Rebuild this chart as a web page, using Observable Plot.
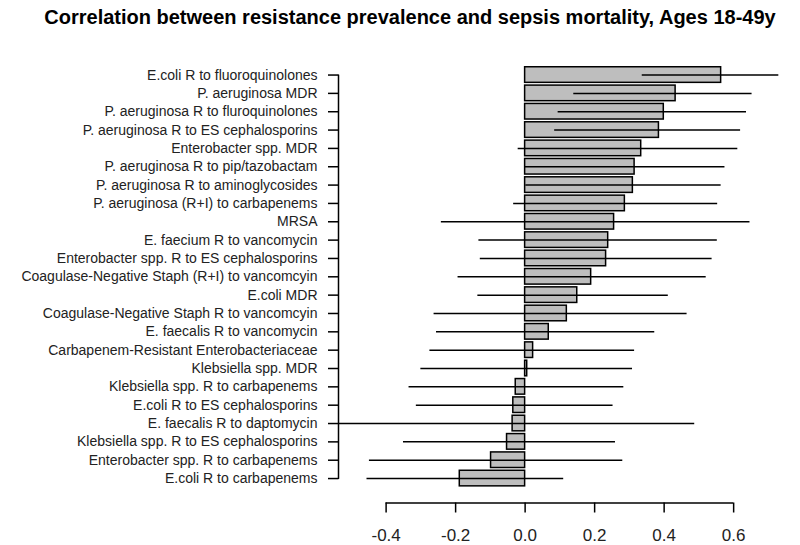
<!DOCTYPE html>
<html><head><meta charset="utf-8">
<script src="https://cdn.jsdelivr.net/npm/d3@7"></script>
<script src="https://cdn.jsdelivr.net/npm/@observablehq/plot@0.6"></script>
<style>
body{margin:0;background:#fff;}
#wrap{position:relative;width:800px;height:545px;}
#title{position:absolute;left:0;width:820px;top:7px;line-height:20px;text-align:center;font-family:"Liberation Sans",Arial,sans-serif;font-weight:bold;font-size:20px;color:#000;white-space:nowrap;}
#chart{position:absolute;left:0;top:0;}
</style></head><body>
<div id="wrap"><div id="chart"></div><div id="title">Correlation between resistance prevalence and sepsis mortality, Ages 18-49y</div></div>
<script>
const categories = [
  "E.coli R to fluoroquinolones",
  "P. aeruginosa MDR",
  "P. aeruginosa R to fluroquinolones",
  "P. aeruginosa R to ES cephalosporins",
  "Enterobacter spp. MDR",
  "P. aeruginosa R to pip/tazobactam",
  "P. aeruginosa R to aminoglycosides",
  "P. aeruginosa (R+I) to carbapenems",
  "MRSA",
  "E. faecium R to vancomycin",
  "Enterobacter spp. R to ES cephalosporins",
  "Coagulase-Negative Staph (R+I) to vancomcyin",
  "E.coli MDR",
  "Coagulase-Negative Staph R to vancomcyin",
  "E. faecalis R to vancomycin",
  "Carbapenem-Resistant Enterobacteriaceae",
  "Klebsiella spp. MDR",
  "Klebsiella spp. R to carbapenems",
  "E.coli R to ES cephalosporins",
  "E. faecalis R to daptomycin",
  "Klebsiella spp. R to ES cephalosporins",
  "Enterobacter spp. R to carbapenems",
  "E.coli R to carbapenems"
];
const estimates = [0.564, 0.433, 0.399, 0.385, 0.334, 0.315, 0.310, 0.287, 0.256, 0.239, 0.233, 0.190, 0.150, 0.120, 0.068, 0.023, 0.006, -0.027, -0.034, -0.036, -0.052, -0.098, -0.188];
const lower = [0.337, 0.140, 0.095, 0.085, -0.020, 0.000, 0.002, -0.033, -0.241, -0.133, -0.129, -0.193, -0.136, -0.262, -0.255, -0.274, -0.300, -0.334, -0.313, -0.560, -0.350, -0.448, -0.455];
const upper = [0.730, 0.653, 0.637, 0.620, 0.612, 0.575, 0.564, 0.554, 0.647, 0.553, 0.538, 0.521, 0.412, 0.466, 0.373, 0.315, 0.309, 0.284, 0.253, 0.488, 0.260, 0.281, 0.111];
const xTicks = [-0.4, -0.2, 0.0, 0.2, 0.4, 0.6];

const data = categories.map((c, i) => ({category: c, r: estimates[i], lo: lower[i], hi: upper[i]}));
const xDomain = [-0.537, 0.78];
const font = '"Liberation Sans", Arial, sans-serif';

const chart = Plot.plot({
  width: 800, height: 545,
  marginLeft: 338, marginRight: 4.3, marginTop: 64, marginBottom: 42.5,
  style: {fontFamily: font, fontSize: "14px", background: "white", color: "black", overflow: "visible"},
  x: {domain: xDomain},
  y: {domain: categories, range: [64, 488.6], padding: 0.15, round: false},
  marks: [
    Plot.barX(data, {x: "r", y: "category", fill: "#bebebe", stroke: "black", strokeWidth: 1.5}),
    Plot.ruleY(data, {y: "category", x1: "lo", x2: "hi", stroke: "black", strokeWidth: 1.5, clip: true}),
    Plot.axisY({tickSize: 10, tickPadding: 11, fontSize: 14, label: null, strokeWidth: 1.5, fill: "#222"}),
    Plot.line([categories[0], categories[categories.length - 1]], {x: () => xDomain[0], y: d => d, stroke: "black", strokeWidth: 1.5}),
    Plot.axisX({ticks: xTicks, tickSize: 10, tickPadding: 16, fontSize: 17, label: null, strokeWidth: 1.5, fill: "#222", tickFormat: d => d.toFixed(1)}),
    Plot.ruleY([categories[categories.length - 1]], {y: d => d, x1: () => xTicks[0], x2: () => xTicks[xTicks.length - 1], dy: 24.5, stroke: "black", strokeWidth: 1.5})
  ]
});
document.getElementById("chart").appendChild(chart);
</script>
</body></html>
